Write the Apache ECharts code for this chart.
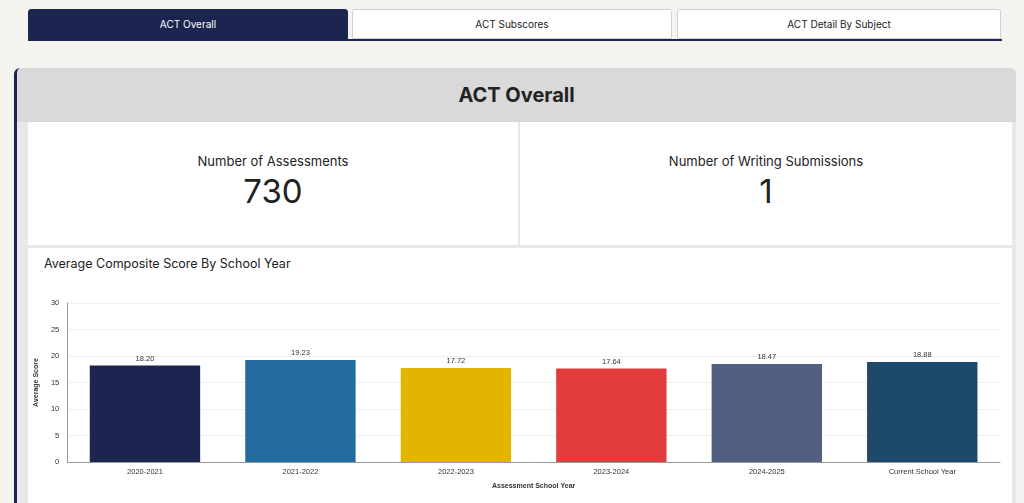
<!DOCTYPE html>
<html><head><meta charset="utf-8">
<script src="https://cdn.jsdelivr.net/npm/echarts@6/dist/echarts.min.js"></script>
<style>
body{margin:0;width:1024px;height:503px;background:#f4f3f0;font-family:Inter,"Noto Sans",sans-serif;position:relative;overflow:hidden;color:#222}
.tab{position:absolute;top:9px;height:30px;width:320px;box-sizing:border-box;border:1px solid #d0d0d0;background:#fff;font-size:10px;display:flex;align-items:center;justify-content:center;border-radius:3px 3px 0 0}
.tab.a{background:#1b2550;color:#fff;border-color:#1b2550}
.line{position:absolute;top:39px;left:28px;width:974px;height:2px;background:#1b2550}
.card{position:absolute;left:14px;top:68px;width:1002px;height:450px;background:#e8e8e8;border-left:3px solid #1b2550;border-radius:6px 6px 0 0;box-sizing:border-box}
.hdr{position:absolute;left:0;top:0;right:0;height:54px;background:#d9d9d9;border-radius:6px 6px 0 0;display:flex;align-items:center;justify-content:center;font-size:20px;font-weight:700;color:#222}
.kpi{position:absolute;top:54px;height:123px;background:#fff;text-align:center}
.kpi .l{font-size:13px;margin-top:31px}
.kpi .v{font-size:33px;margin-top:2px}
.chartbox{position:absolute;left:11px;top:180px;width:984px;height:280px;background:#fff}
.ct{position:absolute;left:27px;top:188px;font-size:12.5px}
</style></head><body>
<div class="tab a" style="left:28px">ACT Overall</div>
<div class="tab" style="left:352px">ACT Subscores</div>
<div class="tab" style="left:677px;width:324px">ACT Detail By Subject</div>
<div class="line"></div>
<div class="card">
<div class="hdr">ACT Overall</div>
<div class="kpi" style="left:11px;width:490px"><div class="l">Number of Assessments</div><div class="v">730</div></div>
<div class="kpi" style="left:503px;width:492px"><div class="l">Number of Writing Submissions</div><div class="v">1</div></div>
<div class="chartbox"></div>
<div class="ct">Average Composite Score By School Year</div>
</div>
<div id="c" style="position:absolute;left:25px;top:247px;width:983px;height:256px"></div>
<script>
const categories=["2020-2021","2021-2022","2022-2023","2023-2024","2024-2025","Current School Year"];
const scores=[18.20,19.23,17.72,17.64,18.47,18.88];
const colors=["#1b2550","#236b9e","#e3b500","#e33c3c","#525f82","#1d4a6b"];
const ch=echarts.init(document.getElementById('c'));
ch.setOption({
animation:false,
grid:{left:40,right:8,top:56,bottom:41},
xAxis:{type:'category',data:categories,name:'Assessment School Year',nameLocation:'middle',nameGap:21,
 nameTextStyle:{fontSize:7,fontWeight:'bold',color:'#333'},
 axisTick:{show:false},axisLine:{lineStyle:{color:'#999'}},axisLabel:{fontSize:7.5,color:'#333',margin:6}},
yAxis:{type:'value',min:0,max:30,interval:5,name:'Average Score',nameLocation:'middle',nameGap:22,
 nameTextStyle:{fontSize:7,fontWeight:'bold',color:'#333'},
 axisLabel:{fontSize:7.5,color:'#333'},axisLine:{show:true,lineStyle:{color:'#999'}},
 splitLine:{lineStyle:{color:'#eee'}}},
series:[{type:'bar',barCategoryGap:'29%',
 data:scores.map((v,i)=>({value:v,itemStyle:{color:colors[i]}})),
 label:{show:true,position:'top',fontSize:7.5,color:'#333',distance:3,formatter:p=>p.value.toFixed(2)}}]
});
</script>
</body></html>
